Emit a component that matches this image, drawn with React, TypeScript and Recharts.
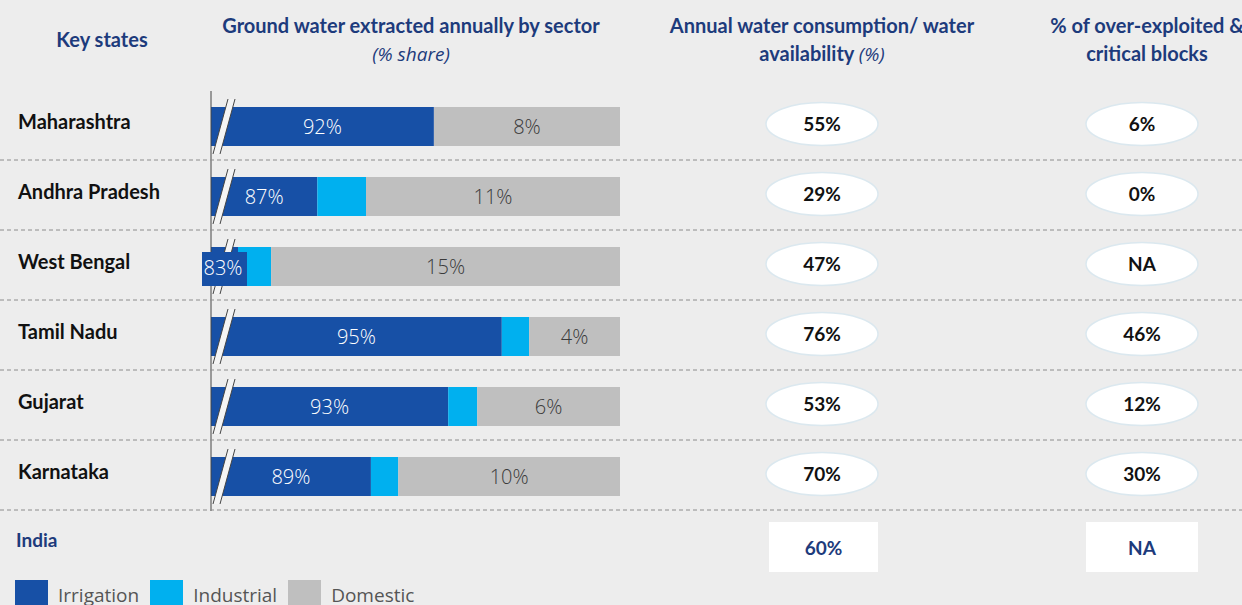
import { BarChart, Bar, XAxis, YAxis, LabelList, Legend } from "recharts";

// rows of the table
const states = ["Maharashtra", "Andhra Pradesh", "West Bengal", "Tamil Nadu", "Gujarat", "Karnataka"];

// % share labels printed on the bars
const irrigationShare = [92, 87, 83, 95, 93, 89];
const domesticShare = [8, 11, 15, 4, 6, 10];

// the axis is broken, so segments are not to scale: drawn length as % of the bar
const irrigationDrawn = [54.5, 26.0, 6.6, 71.1, 58.0, 39.1];
const industrialDrawn = [0, 11.9, 8.1, 6.7, 7.1, 6.7];
const domesticDrawn = [45.5, 62.1, 85.3, 22.2, 34.9, 54.2];

const consumptionRatio = ["55%", "29%", "47%", "76%", "53%", "70%"];
const overExploited = ["6%", "0%", "NA", "46%", "12%", "30%"];
const indiaConsumption = "60%";
const indiaOverExploited = "NA";

const legendItems = ["Irrigation", "Industrial", "Domestic"];

const BLUE = "#1750a6";
const CYAN = "#00b0ef";
const GREY = "#bfbfbf";
const NAVY = "#1d3b7c";
const BG = "#ededed";
const HEAD_FONT = "Lato, 'Open Sans', sans-serif";
const BAR_FONT = "'Open Sans', sans-serif";

const rows = states.map((state, i) => ({
  state,
  irrigation: irrigationDrawn[i],
  industrial: industrialDrawn[i],
  domestic: domesticDrawn[i],
  irrLabel: `${irrigationShare[i]}%`,
  domLabel: `${domesticShare[i]}%`,
}));

const BrokenBar = (props: any) => {
  const { x, y, width, height, fill } = props;
  return (
    <g>
      <rect x={x} y={y} width={width} height={height} fill={fill} />
      <polygon
        points={`${x + 2},${y + height + 8} ${x + 9},${y + height + 8} ${x + 24},${y - 8} ${x + 17},${y - 8}`}
        fill="#f4f4f4"
      />
      <line x1={x + 2} y1={y + height + 8} x2={x + 17} y2={y - 8} stroke="#444" strokeWidth={1} />
      <line x1={x + 9} y1={y + height + 8} x2={x + 24} y2={y - 8} stroke="#444" strokeWidth={1} />
    </g>
  );
};

const IrrigationLabel = (props: any) => {
  const { x, y, width, height, value } = props;
  const cy = y + height / 2;
  if (width < 40) {
    return (
      <g>
        <rect x={x - 9} y={y + 5} width={45} height={height - 5} fill={BLUE} />
        <text x={x + 12} y={cy + 1} dy="0.36em" textAnchor="middle" fill="#fff" fontSize={20} fontFamily={BAR_FONT} fontWeight={300}>
          {value}
        </text>
      </g>
    );
  }
  return (
    <text x={x + width / 2} y={cy} dy="0.36em" textAnchor="middle" fill="#fff" fontSize={20} fontFamily={BAR_FONT} fontWeight={300}>
      {value}
    </text>
  );
};

const DomesticLabel = (props: any) => {
  const { x, y, width, height, value } = props;
  return (
    <text x={x + width / 2} y={y + height / 2} dy="0.36em" textAnchor="middle" fill="#3a3a3a" fontSize={20} fontFamily={BAR_FONT} fontWeight={300}>
      {value}
    </text>
  );
};

const Pill = ({ cx, cy, text }: { cx: number; cy: number; text: string }) => (
  <g>
    <ellipse cx={cx} cy={cy} rx={56} ry={21.5} fill="#fff" stroke="#dbe8ef" strokeWidth={1.5} />
    <text x={cx} y={cy} dy="0.36em" textAnchor="middle" fill="#111" fontSize={19} fontWeight={700} fontFamily={HEAD_FONT}>
      {text}
    </text>
  </g>
);

const RowTick = (props: any) => {
  const { y, payload, index } = props;
  return (
    <g>
      <text x={18} y={y - 4} dy="0.36em" fill="#111" fontSize={20} fontWeight={700} fontFamily={HEAD_FONT}>
        {payload.value}
      </text>
      <Pill cx={822} cy={y - 2} text={consumptionRatio[index]} />
      <Pill cx={1142} cy={y - 2} text={overExploited[index]} />
      <line x1={0} x2={1242} y1={y + 34} y2={y + 34} stroke="#8c8c8c" strokeDasharray="4 3" strokeWidth={1} />
    </g>
  );
};

const LegendContent = () => {
  const colors = [BLUE, CYAN, GREY];
  return (
    <div style={{ display: "flex", alignItems: "center", fontFamily: BAR_FONT, fontSize: 19, color: "#555", lineHeight: "24px" }}>
      {legendItems.map((name, i) => (
        <div key={name} style={{ display: "flex", alignItems: "center", marginRight: 11 }}>
          <div style={{ width: 33, height: 30, background: colors[i], marginRight: 10 }} />
          <span>{name}</span>
        </div>
      ))}
    </div>
  );
};

const headStyle: React.CSSProperties = {
  position: "absolute",
  width: 460,
  textAlign: "center",
  color: NAVY,
  fontFamily: HEAD_FONT,
  fontWeight: 700,
  fontSize: 20,
  lineHeight: "28px",
};

export default function App() {
  return (
    <div style={{ position: "absolute", left: 0, top: 0, width: 1242, height: 605, background: BG, overflow: "hidden" }}>
      <div style={{ ...headStyle, left: 102 - 230, top: 25 }}>Key states</div>
      <div style={{ ...headStyle, left: 411 - 230, top: 11 }}>
        Ground water extracted annually by sector
        <br />
        <span style={{ fontWeight: 400, fontStyle: "italic", fontFamily: BAR_FONT, fontSize: 19 }}>(% share)</span>
      </div>
      <div style={{ ...headStyle, left: 822 - 230, top: 11 }}>
        Annual water consumption/ water
        <br />
        availability <span style={{ fontWeight: 400, fontStyle: "italic", fontFamily: BAR_FONT, fontSize: 19 }}>(%)</span>
      </div>
      <div style={{ ...headStyle, left: 1147 - 230, top: 11 }}>
        % of over-exploited &amp;
        <br />
        critical blocks
      </div>

      <BarChart
        width={1242}
        height={605}
        data={rows}
        layout="vertical"
        margin={{ top: 91, right: 622, bottom: 94, left: 210 }}
      >
        <XAxis type="number" domain={[0, 100]} hide />
        <YAxis
          type="category"
          dataKey="state"
          width={1}
          tickLine={false}
          axisLine={{ stroke: "#444", strokeWidth: 1 }}
          tick={<RowTick />}
          interval={0}
        />
        <Bar dataKey="irrigation" stackId="s" fill={BLUE} barSize={39} shape={<BrokenBar />} isAnimationActive={false}>
          <LabelList dataKey="irrLabel" content={<IrrigationLabel />} />
        </Bar>
        <Bar dataKey="industrial" stackId="s" fill={CYAN} barSize={39} isAnimationActive={false} />
        <Bar dataKey="domestic" stackId="s" fill={GREY} barSize={39} isAnimationActive={false}>
          <LabelList dataKey="domLabel" content={<DomesticLabel />} />
        </Bar>
        <Legend
          layout="vertical"
          align="center"
          verticalAlign="middle"
          wrapperStyle={{ left: 15, top: 580, width: 500 }}
          content={<LegendContent />}
        />
      </BarChart>

      <div style={{ position: "absolute", left: 16, top: 528, color: NAVY, fontFamily: HEAD_FONT, fontWeight: 700, fontSize: 19 }}>
        India
      </div>
      {[
        { left: 769, width: 109, text: indiaConsumption },
        { left: 1086, width: 112, text: indiaOverExploited },
      ].map((b) => (
        <div
          key={b.left}
          style={{
            position: "absolute",
            left: b.left,
            top: 522,
            width: b.width,
            height: 50,
            background: "#fff",
            display: "flex",
            alignItems: "center",
            justifyContent: "center",
            color: NAVY,
            fontFamily: HEAD_FONT,
            fontWeight: 700,
            fontSize: 19,
          }}
        >
          {b.text}
        </div>
      ))}
    </div>
  );
}
